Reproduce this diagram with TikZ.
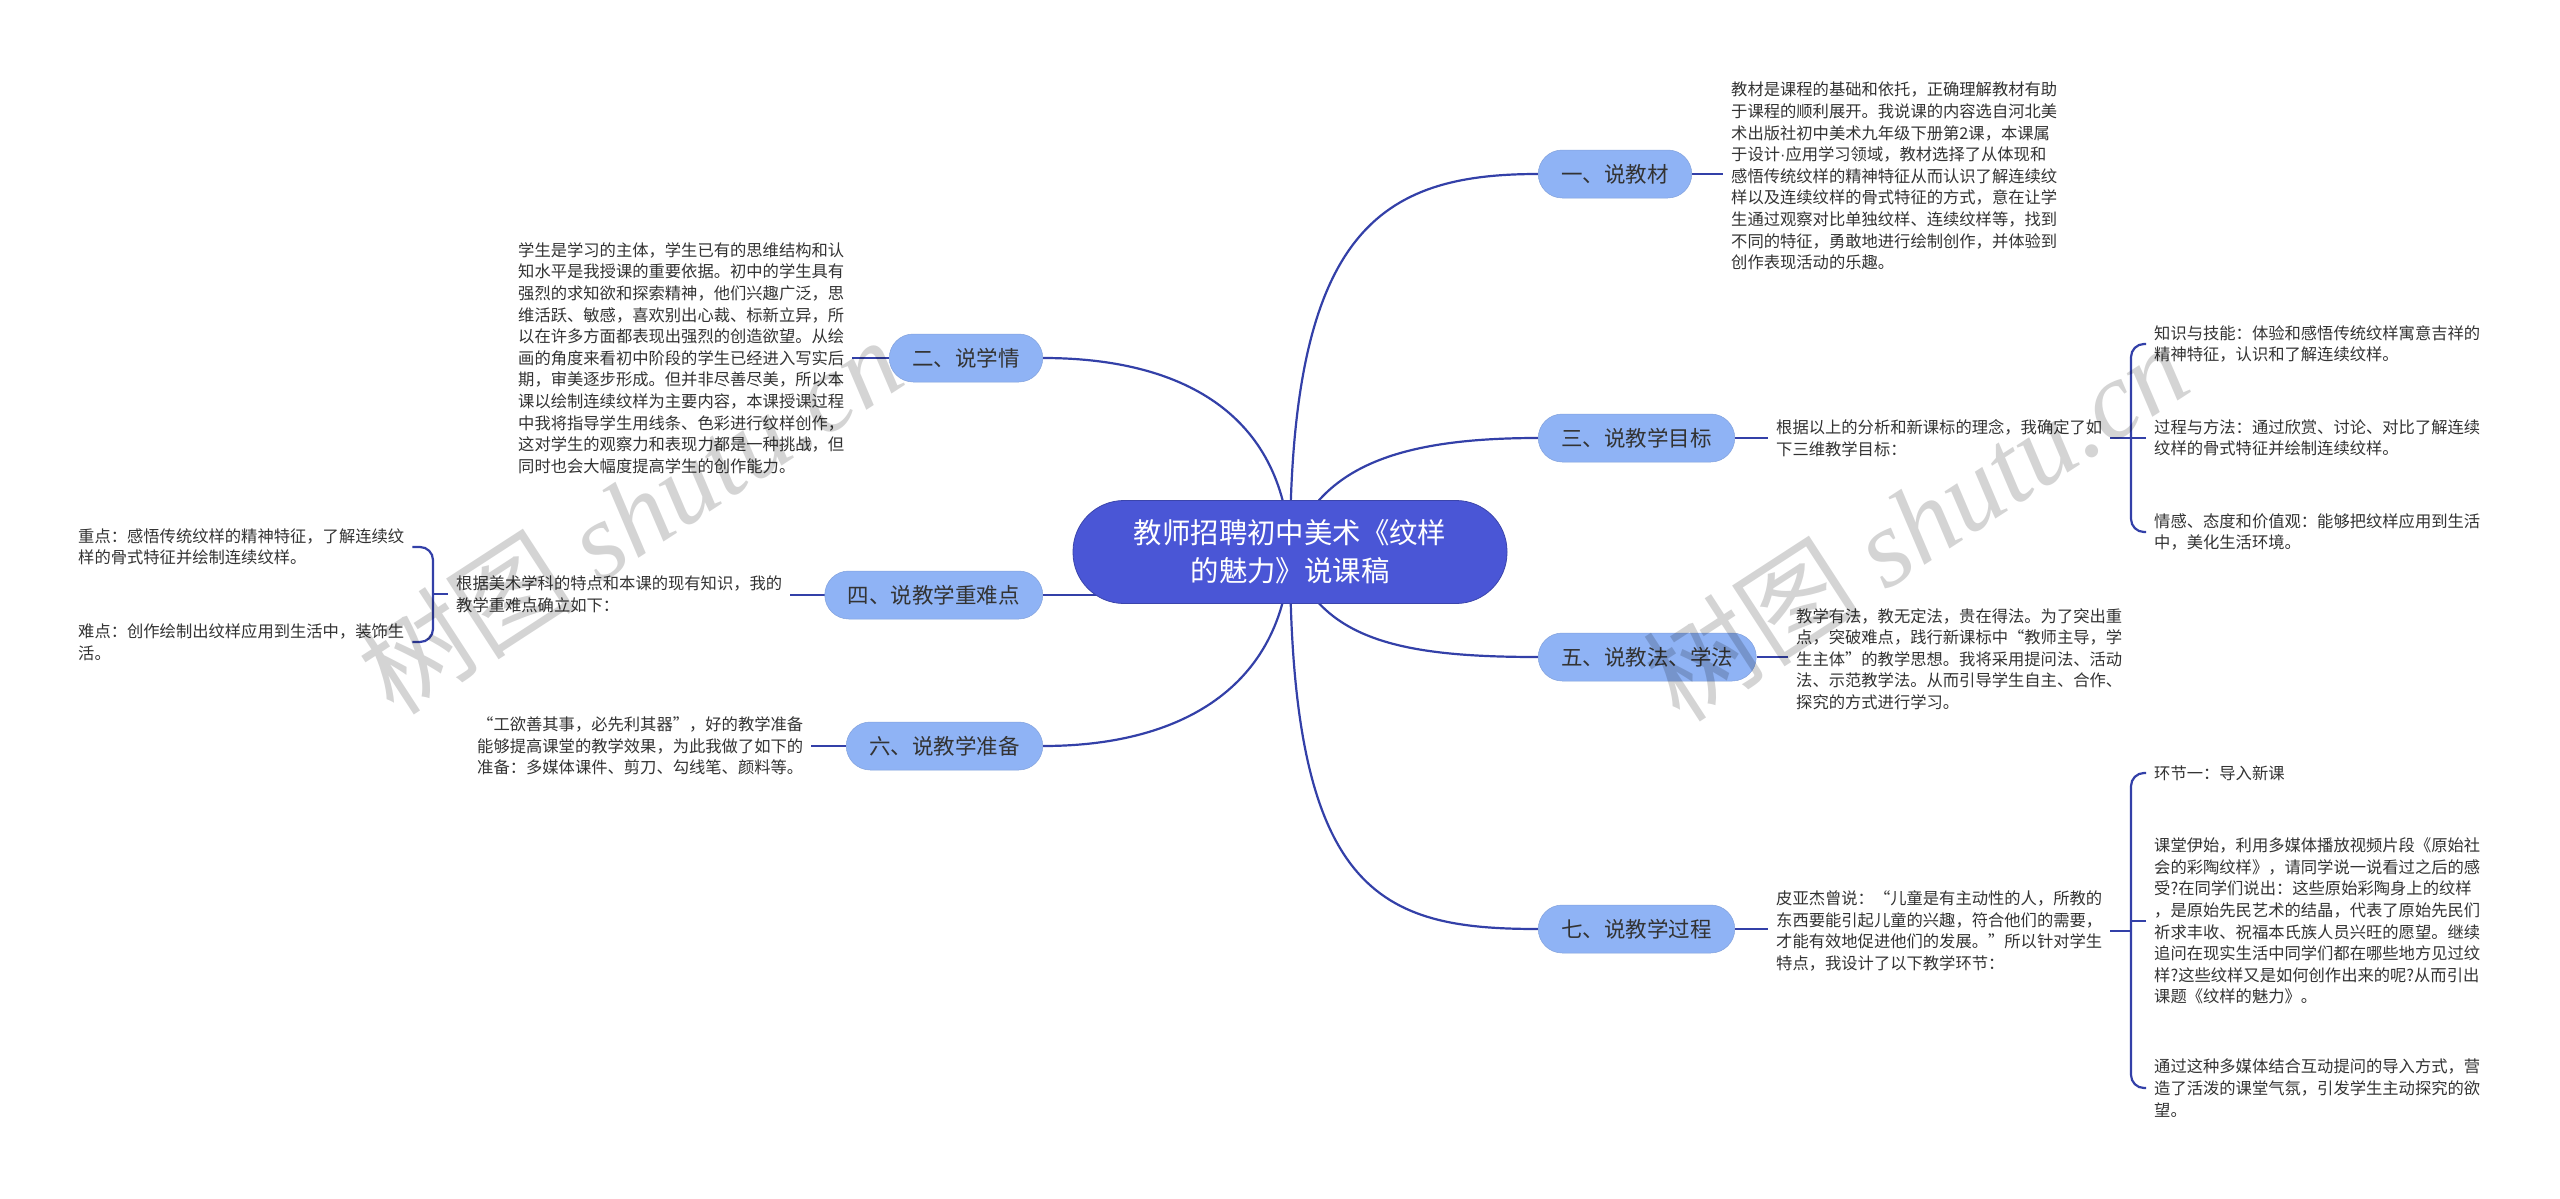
\documentclass[tikz,border=0pt]{standalone}
\usepackage{fontspec}
\setmainfont{Noto Sans CJK SC}
\newfontfamily\wmfont{Liberation Serif}
\newfontfamily\latinfont{Liberation Sans}
\usetikzlibrary{backgrounds,calc}
\definecolor{linec}{HTML}{3340A8}
\definecolor{centerc}{HTML}{4A56D6}
\definecolor{branchc}{HTML}{8FB3F5}
\definecolor{txtc}{HTML}{333333}
\begin{document}
\begin{tikzpicture}[x=1pt,y=-1pt,
  body/.style={font=\fontsize{16.3pt}{21.6pt}\selectfont, text=txtc, align=left, inner xsep=8pt, inner ysep=2pt},
  branch/.style={rectangle, rounded corners=24pt, fill=branchc, draw=branchc!90!black, line width=0.5pt, minimum height=48pt, inner xsep=23pt, inner ysep=0pt, font=\fontsize{21.5pt}{24pt}\selectfont, text=txtc},
  central/.style={rectangle, rounded corners=51pt, fill=centerc, draw=centerc!80!black, line width=0.8pt, minimum width=434pt, minimum height=103pt, align=center, font=\fontsize{28.4pt}{38pt}\selectfont, text=white},
  conn/.style={draw=linec, line width=2.2pt},
  wm/.style={text=black, opacity=0.17, font=\fontsize{110pt}{120pt}\selectfont, inner sep=0pt}
]
\useasboundingbox (0,0) rectangle (2560,1199);

% central and branch nodes
\node[central] (c) at (1290,552) {教师招聘初中美术《纹样\\的魅力》说课稿};
\node[branch, anchor=west] (n1) at (1538,174) {一、说教材};
\node[branch, anchor=west] (n3) at (1538,438) {三、说教学目标};
\node[branch, anchor=west] (n5) at (1538,657) {五、说教法、学法};
\node[branch, anchor=west] (n7) at (1538,929) {七、说教学过程};
\node[branch, anchor=east] (n2) at (1043,358) {二、说学情};
\node[branch, anchor=east] (n4) at (1043,595) {四、说教学重难点};
\node[branch, anchor=east] (n6) at (1043,746) {六、说教学准备};

% right texts
\node[body, anchor=west] (t1) at (1723,176) {教材是课程的基础和依托，正确理解教材有助\\
于课程的顺利展开。我说课的内容选自河北美\\
术出版社初中美术九年级下册第2课，本课属\\
于设计{\latinfont ·}应用学习领域，教材选择了从体现和\\
感悟传统纹样的精神特征从而认识了解连续纹\\
样以及连续纹样的骨式特征的方式，意在让学\\
生通过观察对比单独纹样、连续纹样等，找到\\
不同的特征，勇敢地进行绘制创作，并体验到\\
创作表现活动的乐趣。};

\node[body, anchor=west] (t3) at (1768,438) {根据以上的分析和新课标的理念，我确定了如\\
下三维教学目标：};
\node[body, anchor=west] (c31) at (2146,344) {知识与技能：体验和感悟传统纹样寓意吉祥的\\
精神特征，认识和了解连续纹样。};
\node[body, anchor=west] (c32) at (2146,438) {过程与方法：通过欣赏、讨论、对比了解连续\\
纹样的骨式特征并绘制连续纹样。};
\node[body, anchor=west] (c33) at (2146,532) {情感、态度和价值观：能够把纹样应用到生活\\
中，美化生活环境。};

\node[body, anchor=west] (t5) at (1788,659) {教学有法，教无定法，贵在得法。为了突出重\\
点，突破难点，践行新课标中“教师主导，学\\
生主体”的教学思想。我将采用提问法、活动\\
法、示范教学法。从而引导学生自主、合作、\\
探究的方式进行学习。};

\node[body, anchor=west] (t7) at (1768,931) {皮亚杰曾说：“儿童是有主动性的人，所教的\\
东西要能引起儿童的兴趣，符合他们的需要，\\
才能有效地促进他们的发展。”所以针对学生\\
特点，我设计了以下教学环节：};
\node[body, anchor=west] (c71) at (2146,773) {环节一：导入新课};
\node[body, anchor=west] (c72) at (2146,921) {课堂伊始，利用多媒体播放视频片段《原始社\\
会的彩陶纹样》，请同学说一说看过之后的感\\
受?在同学们说出：这些原始彩陶身上的纹样\\
，是原始先民艺术的结晶，代表了原始先民们\\
祈求丰收、祝福本氏族人员兴旺的愿望。继续\\
追问在现实生活中同学们都在哪些地方见过纹\\
样?这些纹样又是如何创作出来的呢?从而引出\\
课题《纹样的魅力》。};
\node[body, anchor=west] (c73) at (2146,1088) {通过这种多媒体结合互动提问的导入方式，营\\
造了活泼的课堂气氛，引发学生主动探究的欲\\
望。};

% left texts
\node[body, anchor=west] (t2) at (510,358) {学生是学习的主体，学生已有的思维结构和认\\
知水平是我授课的重要依据。初中的学生具有\\
强烈的求知欲和探索精神，他们兴趣广泛，思\\
维活跃、敏感，喜欢别出心裁、标新立异，所\\
以在许多方面都表现出强烈的创造欲望。从绘\\
画的角度来看初中阶段的学生已经进入写实后\\
期，审美逐步形成。但并非尽善尽美，所以本\\
课以绘制连续纹样为主要内容，本课授课过程\\
中我将指导学生用线条、色彩进行纹样创作，\\
这对学生的观察力和表现力都是一种挑战，但\\
同时也会大幅度提高学生的创作能力。};

\node[body, anchor=west] (t4) at (448,594) {根据美术学科的特点和本课的现有知识，我的\\
教学重难点确立如下：};
\node[body, anchor=west] (c41) at (70,547) {重点：感悟传统纹样的精神特征，了解连续纹\\
样的骨式特征并绘制连续纹样。};
\node[body, anchor=west] (c42) at (70,642) {难点：创作绘制出纹样应用到生活中，装饰生\\
活。};

\node[body, anchor=west] (t6) at (469,746) {“工欲善其事，必先利其器”，好的教学准备\\
能够提高课堂的教学效果，为此我做了如下的\\
准备：多媒体课件、剪刀、勾线笔、颜料等。};

% bracket coordinates
\coordinate (b3) at ($(c33.west)+(-15,0)$);
\coordinate (b7) at ($(c73.west)+(-15,0)$);
\coordinate (b4) at ($(t4.west)+(-15,0)$);

% watermarks
\node[wm, rotate=33] (w1) at (629,515) {树图 {\wmfont\itshape shutu.cn}};
\node[wm, rotate=33] (w2) at (1915,522) {树图 {\wmfont\itshape shutu.cn}};

\begin{scope}[on background layer]
\fill[white] (0,0) rectangle (2560,1199);
% central connectors
\draw[conn] (c.center) .. controls (1290,230) and (1380,174) .. (n1.west);
\draw[conn] (c.center) .. controls (1318,466) and (1400,438) .. (n3.west);
\draw[conn] (c.center) .. controls (1318,640) and (1400,657) .. (n5.west);
\draw[conn] (c.center) .. controls (1290,895) and (1380,929) .. (n7.west);
\draw[conn] (c.center) .. controls (1285,420) and (1190,358) .. (n2.east);
\draw[conn] (c.center |- n4.east) -- (n4.east);
\draw[conn] (c.center) .. controls (1285,680) and (1190,746) .. (n6.east);
% branch to text
\draw[conn] (n1.east) -- (n1.east -| t1.west);
\draw[conn] (n3.east) -- (n3.east -| t3.west);
\draw[conn] (n5.east) -- (n5.east -| t5.west);
\draw[conn] (n7.east) -- (n7.east -| t7.west);
\draw[conn] (t2.east |- n2.west) -- (n2.west);
\draw[conn] (t4.east |- n4.west) -- (n4.west);
\draw[conn] (t6.east |- n6.west) -- (n6.west);
% brackets
\draw[conn, rounded corners=13pt] (c31.west) -| (b3) -- (c33.west);
\draw[conn] (t3.east) -- (t3.east -| c32.west);
\draw[conn, rounded corners=13pt] (c71.west) -| (b7) -- (c73.west);
\draw[conn] (t7.east) -- (t7.east -| b7);
\draw[conn] (c72.west) -- (c72.west -| b7);
\draw[conn, rounded corners=13pt] (c41.east) -| (b4) |- (c42.east);
\draw[conn] (t4.west) -- (b4);
\end{scope}
\end{tikzpicture}
\end{document}
